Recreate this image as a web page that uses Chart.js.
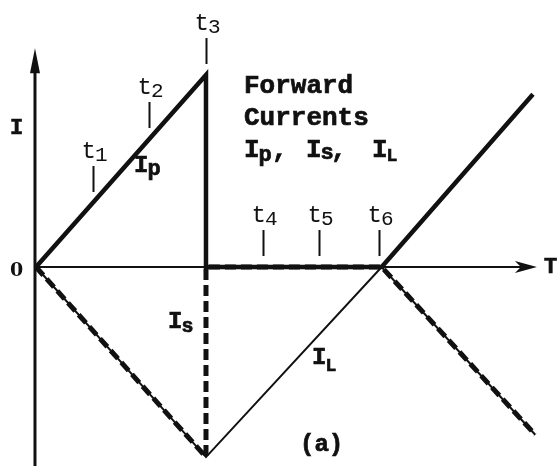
<!DOCTYPE html>
<html>
<head>
<meta charset="utf-8">
<title>Forward Currents</title>
<script src="https://cdn.jsdelivr.net/npm/chart.js@4.4.1/dist/chart.umd.min.js"></script>
<style>
  html, body { margin: 0; padding: 0; background: #fff; }
  #grafico { display: block; }
</style>
</head>
<body>
<canvas id="grafico" width="560" height="466"></canvas>
<script>
// tempo em unidades das marcas t1..t6, corrente em unidades relativas
var ipTempo = [0, 3, 3, 6.1, 8.77];
var ipCorrente = [0, 3, 0, 0, 2.7];

var isTempo = [0, 3, 3, 6.1, 8.81];
var isCorrente = [0, -2.97, 0, 0, -2.62];

var ilTempo = [0, 3, 6.1, 8.81];
var ilCorrente = [0, -2.97, 0, -2.62];

// marcas t1..t6 e o valor de Ip em cada uma (onde a marca se apoia)
var marcasTempo = [1, 2, 3, 4, 5, 6.05];
var marcasNome = ['1', '2', '3', '4', '5', '6'];
var marcasBase = [1, 2, 3, 0, 0, 0];

// extremos dos eixos com seta
var eixoTempoFim = 8.84;
var eixoCorrenteFim = 3.42;

function pontos(xs, ys) {
    return xs.map(function (x, i) { return { x: x, y: ys[i] }; });
}

var FONTE = '"Liberation Mono", "Courier New", monospace';
var COR = '#111';

// texto com contorno leve, para ficar mais carregado
function escreve(ctx, txt, x, y, grosso) {
    ctx.fillText(txt, x, y);
    if (grosso) {
        ctx.lineWidth = 0.7;
        ctx.strokeText(txt, x, y);
    }
}

// texto com índice rebaixado (Ip, Is, IL, t1...)
function textoIndice(ctx, base, indice, x, y, tam, tamIndice, desce, peso) {
    ctx.font = peso + ' ' + tam + 'px ' + FONTE;
    escreve(ctx, base, x, y, peso == 'bold');
    var w = ctx.measureText(base).width;
    ctx.font = peso + ' ' + tamIndice + 'px ' + FONTE;
    escreve(ctx, indice, x + w - 1, y + desce, peso == 'bold');
}

var desenhoEixos = {
    id: 'desenhoEixos',
    beforeDatasetsDraw: function (chart) {
        var ctx = chart.ctx;
        var sx = chart.scales.x, sy = chart.scales.y;
        var x0 = sx.getPixelForValue(0), y0 = sy.getPixelForValue(0);
        var xFim = sx.getPixelForValue(eixoTempoFim);
        var yFim = sy.getPixelForValue(eixoCorrenteFim);
        ctx.save();
        ctx.strokeStyle = COR;
        ctx.fillStyle = COR;
        // eixo I
        ctx.lineWidth = 3;
        ctx.beginPath();
        ctx.moveTo(x0 - 1, chart.chartArea.bottom);
        ctx.lineTo(x0 - 1, yFim + 10);
        ctx.stroke();
        ctx.beginPath();
        ctx.moveTo(x0 - 1, yFim);
        ctx.lineTo(x0 - 6, yFim + 25);
        ctx.lineTo(x0 + 4, yFim + 25);
        ctx.closePath();
        ctx.fill();
        // eixo T
        ctx.lineWidth = 2;
        ctx.beginPath();
        ctx.moveTo(x0, y0);
        ctx.lineTo(xFim - 10, y0);
        ctx.stroke();
        ctx.beginPath();
        ctx.moveTo(xFim, y0);
        ctx.lineTo(xFim - 22, y0 - 6);
        ctx.lineTo(xFim - 16, y0);
        ctx.lineTo(xFim - 22, y0 + 6);
        ctx.closePath();
        ctx.fill();
        ctx.restore();
    },
    afterDatasetsDraw: function (chart) {
        var ctx = chart.ctx;
        var sx = chart.scales.x, sy = chart.scales.y;
        ctx.save();
        ctx.strokeStyle = COR;
        ctx.fillStyle = COR;
        ctx.textBaseline = 'alphabetic';

        // marcas t1..t6
        marcasTempo.forEach(function (t, i) {
            var px = Math.round(sx.getPixelForValue(t)) + 0.5;
            var py = sy.getPixelForValue(marcasBase[i]);
            ctx.lineWidth = 2;
            ctx.beginPath();
            ctx.moveTo(px, py - 11);
            ctx.lineTo(px, py - 37);
            ctx.stroke();
            textoIndice(ctx, 't', marcasNome[i], px - 12, py - 45, 24, 21, 3, 'normal');
        });

        ctx.textAlign = 'left';
        // rótulos dos eixos
        ctx.font = 'bold 22px ' + FONTE;
        escreve(ctx, 'I', 10, 134, true);
        escreve(ctx, 'T', 544, 273, true);
        ctx.font = 'bold 19px "DejaVu Serif", serif';
        escreve(ctx, '0', 10, 276, false);

        // legenda
        ctx.font = 'bold 26px ' + FONTE;
        escreve(ctx, 'Forward', 244, 93, true);
        escreve(ctx, 'Currents', 244, 125, true);
        textoIndice(ctx, 'I', 'p', 244, 157, 26, 22, 4, 'bold');
        ctx.font = 'bold 26px ' + FONTE;
        escreve(ctx, ',', 272, 157, true);
        textoIndice(ctx, 'I', 's', 306, 157, 26, 22, 2, 'bold');
        ctx.font = 'bold 26px ' + FONTE;
        escreve(ctx, ',', 331, 157, true);
        textoIndice(ctx, 'I', 'L', 372, 157, 26, 18, 4, 'bold');

        // nomes das curvas
        textoIndice(ctx, 'I', 'p', 134, 172, 24, 22, 3, 'bold');
        textoIndice(ctx, 'I', 's', 168, 328, 24, 20, 4, 'bold');
        textoIndice(ctx, 'I', 'L', 312, 364, 24, 18, 7, 'bold');

        ctx.font = 'bold 24px ' + FONTE;
        escreve(ctx, '(a)', 300, 451, true);
        ctx.restore();
    }
};

var ctx = document.getElementById('grafico').getContext('2d');
var grafico = new Chart(ctx, {
    type: 'line',
    data: {
        datasets: [{
            label: 'IL',
            data: pontos(ilTempo, ilCorrente),
            borderColor: COR,
            borderWidth: 2,
            pointRadius: 0,
            tension: 0
        }, {
            label: 'Is',
            data: pontos(isTempo, isCorrente),
            borderColor: COR,
            borderWidth: 5,
            borderDash: [11, 5],
            borderCapStyle: 'butt',
            borderJoinStyle: 'miter',
            pointRadius: 0,
            tension: 0
        }, {
            label: 'Ip',
            data: pontos(ipTempo, ipCorrente),
            borderColor: COR,
            borderWidth: 4.5,
            borderJoinStyle: 'miter',
            pointRadius: 0,
            tension: 0
        }]
    },
    options: {
        responsive: false,
        animation: false,
        layout: { padding: 0 },
        plugins: {
            legend: { display: false },
            tooltip: { enabled: false }
        },
        scales: {
            x: { type: 'linear', display: false, min: -0.635, max: 9.247 },
            y: { type: 'linear', display: false, min: -3.109, max: 4.172 }
        }
    },
    plugins: [desenhoEixos]
});
</script>
</body>
</html>
